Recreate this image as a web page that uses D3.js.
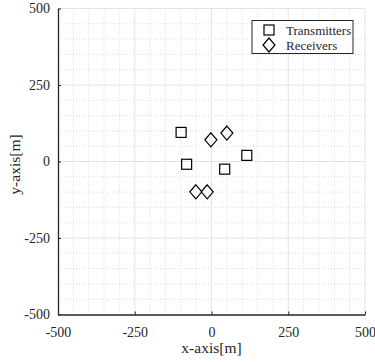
<!DOCTYPE html>
<html>
<head>
<meta charset="utf-8">
<script src="https://cdn.jsdelivr.net/npm/d3@7"></script>
<style>
  body { margin: 0; background: #fff; }
  svg { display: block; }
  text { font-family: "Liberation Serif", "Times New Roman", serif; fill: #262626; }
</style>
</head>
<body>
<div id="chart"></div>
<script>
// transmitters and receivers, positions in metres
const txX = [-99, -81, 43, 115];
const txY = [95, -9, -25, 20];
const rxX = [-2, 50, -51, -14];
const rxY = [71, 93, -99, -99];
const majorTicks = [-500, -250, 0, 250, 500];
const legendNames = ["Transmitters", "Receivers"];

const width = 375, height = 362;
const margin = { left: 58, right: 10, top: 8.5, bottom: 47.5 };

const svg = d3.select("#chart").append("svg")
  .attr("width", width)
  .attr("height", height);

const x = d3.scaleLinear().domain([-500, 500]).range([margin.left, width - margin.right]);
const y = d3.scaleLinear().domain([-500, 500]).range([height - margin.bottom, margin.top]);

const minor = d3.range(-450, 500, 50).filter(v => v % 250 !== 0);

// minor grid (dotted)
const grid = svg.append("g");
grid.selectAll(".mx").data(minor).join("line")
  .attr("x1", d => x(d)).attr("x2", d => x(d))
  .attr("y1", y(-500)).attr("y2", y(500))
  .attr("stroke", "#cfcfcf").attr("stroke-width", 0.8)
  .attr("stroke-dasharray", "1,2");
grid.selectAll(".my").data(minor).join("line")
  .attr("y1", d => y(d)).attr("y2", d => y(d))
  .attr("x1", x(-500)).attr("x2", x(500))
  .attr("stroke", "#cfcfcf").attr("stroke-width", 0.8)
  .attr("stroke-dasharray", "1,2");

// major grid
grid.selectAll(".Mx").data(majorTicks.slice(1)).join("line")
  .attr("x1", d => x(d)).attr("x2", d => x(d))
  .attr("y1", y(-500)).attr("y2", y(500))
  .attr("stroke", "#e3e3e3").attr("stroke-width", 1);
grid.selectAll(".My").data(majorTicks.slice(1)).join("line")
  .attr("y1", d => y(d)).attr("y2", d => y(d))
  .attr("x1", x(-500)).attr("x2", x(500))
  .attr("stroke", "#e3e3e3").attr("stroke-width", 1);

// axes (plain hyphen minus, like the reference)
const fmt = d => String(d);
const xAxis = svg.append("g")
  .attr("transform", `translate(0,${y(-500)})`)
  .call(d3.axisBottom(x).tickValues(majorTicks).tickFormat(fmt).tickSizeInner(-3).tickSizeOuter(0).tickPadding(13));
const yAxis = svg.append("g")
  .attr("transform", `translate(${x(-500)},0)`)
  .call(d3.axisLeft(y).tickValues(majorTicks).tickFormat(fmt).tickSizeInner(-3).tickSizeOuter(0).tickPadding(8));

[xAxis, yAxis].forEach(a => {
  a.attr("font-family", "Liberation Serif").attr("font-size", 14);
  a.select(".domain").attr("stroke", "#262626").attr("stroke-width", 1.3);
  a.selectAll(".tick line").attr("stroke", "#262626");
  a.selectAll(".tick text").attr("fill", "#262626");
});

// axis labels
svg.append("text")
  .attr("x", x(0)).attr("y", 353)
  .attr("text-anchor", "middle")
  .style("font-size", "15.5px")
  .text("x-axis[m]");
svg.append("text")
  .attr("transform", `translate(20,${y(0) + 3}) rotate(-90)`)
  .attr("text-anchor", "middle")
  .style("font-size", "15.5px")
  .text("y-axis[m]");

// markers
const sq = 10;
svg.append("g").selectAll("rect").data(txX).join("rect")
  .attr("x", (d, i) => x(d) - sq / 2)
  .attr("y", (d, i) => y(txY[i]) - sq / 2)
  .attr("width", sq).attr("height", sq)
  .attr("fill", "none").attr("stroke", "#000").attr("stroke-width", 1.2);

const diamond = (cx, cy) => `M${cx},${cy - 7}L${cx + 6},${cy}L${cx},${cy + 7}L${cx - 6},${cy}Z`;
svg.append("g").selectAll("path").data(rxX).join("path")
  .attr("d", (d, i) => diamond(x(d), y(rxY[i])))
  .attr("fill", "none").attr("stroke", "#000").attr("stroke-width", 1.2);

// legend
const lg = svg.append("g");
lg.append("rect")
  .attr("x", 252).attr("y", 20.5).attr("width", 101).attr("height", 33)
  .attr("fill", "#fff").attr("stroke", "#262626").attr("stroke-width", 1);
lg.append("rect")
  .attr("x", 269 - sq / 2).attr("y", 30 - sq / 2).attr("width", sq).attr("height", sq)
  .attr("fill", "none").attr("stroke", "#000").attr("stroke-width", 1.2);
lg.append("path")
  .attr("d", diamond(269, 45))
  .attr("fill", "none").attr("stroke", "#000").attr("stroke-width", 1.2);
lg.selectAll("text").data(legendNames).join("text")
  .attr("x", 286)
  .attr("y", (d, i) => 34.5 + i * 15)
  .style("font-size", "13px")
  .text(d => d);
</script>
</body>
</html>
